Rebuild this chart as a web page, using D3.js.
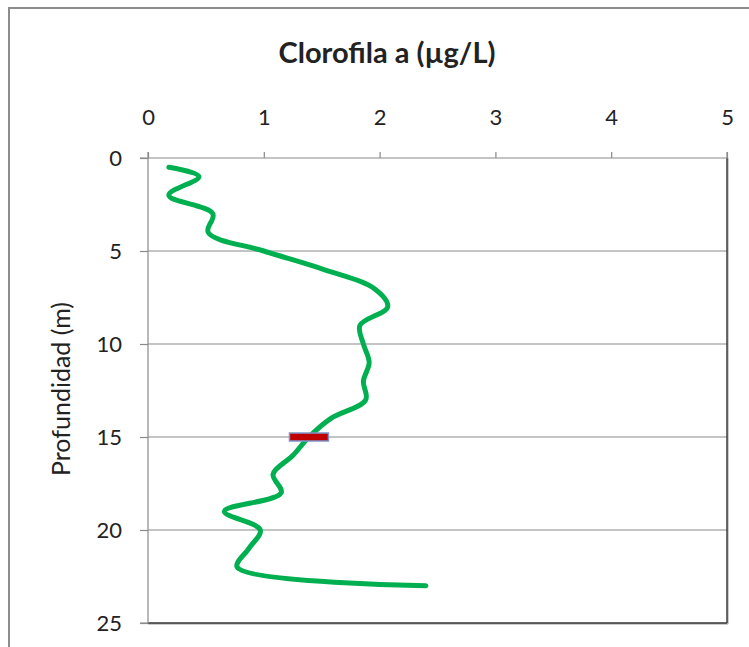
<!DOCTYPE html>
<html><head><meta charset="utf-8">
<script src="https://cdn.jsdelivr.net/npm/d3@7"></script>
<style>
html,body{margin:0;padding:0;background:#fff;}
svg{display:block;}
text{font-family:Lato,"Open Sans",sans-serif;fill:#222;}
</style></head>
<body>
<script>
// Data
const depths = [0.5, 1, 2, 3, 4, 5, 6, 7, 8, 9, 10, 11, 12, 13, 14, 15, 16, 17, 18, 19, 20, 21, 22, 23];
const chlorophyll = [0.18, 0.44, 0.18, 0.56, 0.52, 1.0, 1.52, 1.95, 2.07, 1.83, 1.86, 1.91, 1.86, 1.88, 1.58, 1.39, 1.25, 1.08, 1.15, 0.66, 0.97, 0.87, 0.77, 2.40];
const markerDepth = [15];
const markerValue = [1.39];
const xTicks = [0, 1, 2, 3, 4, 5];
const yTicks = [0, 5, 10, 15, 20, 25];
const titleText = "Clorofila a (µg/L)";
const yTitleText = "Profundidad (m)";

const W = 749, H = 647;
const svg = d3.select("body").append("svg").attr("width", W).attr("height", H);

// outer chart border (cropped)
svg.append("rect").attr("x", 9).attr("y", 8).attr("width", W + 20).attr("height", H + 20)
  .attr("fill", "#fff").attr("stroke", "#8c8c8c").attr("stroke-width", 2);

const L = 148, R = 727, T = 158, B = 623;
const x = d3.scaleLinear().domain([0, 5]).range([L, R]);
const y = d3.scaleLinear().domain([0, 25]).range([T, B]);

// gridlines
svg.append("g").selectAll("line").data(yTicks.filter(d => d > 0 && d < 25)).join("line")
  .attr("x1", L).attr("x2", R).attr("y1", d => y(d)).attr("y2", d => y(d))
  .attr("stroke", "#8a8a8a").attr("stroke-width", 1.2);

// plot frame right/bottom
svg.append("line").attr("x1", R + 1).attr("x2", R + 1).attr("y1", T).attr("y2", B + 1)
  .attr("stroke", "#999").attr("stroke-width", 1);
svg.append("line").attr("x1", R).attr("x2", R).attr("y1", T).attr("y2", B)
  .attr("stroke", "#222").attr("stroke-width", 1.3);
svg.append("line").attr("x1", L).attr("x2", R + 1).attr("y1", B + 1).attr("y2", B + 1)
  .attr("stroke", "#999").attr("stroke-width", 1);
svg.append("line").attr("x1", L).attr("x2", R).attr("y1", B).attr("y2", B)
  .attr("stroke", "#333").attr("stroke-width", 1.3);

// axes
const xAxis = d3.axisTop(x).tickValues(xTicks).tickSize(6).tickPadding(27).tickFormat(d3.format("d"));
const gx = svg.append("g").attr("transform", `translate(0,${T})`).call(xAxis);
const yAxis = d3.axisLeft(y).tickValues(yTicks).tickSize(8).tickPadding(18).tickFormat(d3.format("d"));
const gy = svg.append("g").attr("transform", `translate(${L},0)`).call(yAxis);
[gx, gy].forEach(g => {
  g.select(".domain").attr("stroke", "#8a8a8a").attr("stroke-width", 1.2);
  g.selectAll(".tick line").attr("stroke", "#8a8a8a").attr("stroke-width", 1.2);
  g.selectAll(".tick text").attr("font-size", 22).attr("fill", "#222")
    .style("font-family", "Lato, 'Open Sans', sans-serif");
});
gx.select(".domain").attr("d", `M${L},-6V0H${R}V-6`);
gy.select(".domain").attr("d", `M-8,${T}H0V${B}H-8`);

// line
const pts = depths.map((d, i) => [chlorophyll[i], d]);
const line = d3.line().x(d => x(d[0])).y(d => y(d[1])).curve(d3.curveCatmullRom.alpha(0.5));
svg.append("path").attr("d", line(pts)).attr("fill", "none")
  .attr("stroke", "#00b050").attr("stroke-width", 5).attr("stroke-linecap", "round").attr("stroke-linejoin", "round");

// marker
svg.append("g").selectAll("rect").data(markerDepth.map((d, i) => [markerValue[i], d])).join("rect")
  .attr("x", d => x(d[0]) - 19.5).attr("y", d => y(d[1]) - 4).attr("width", 39).attr("height", 8)
  .attr("fill", "#c00000").attr("stroke", "#7f95c8").attr("stroke-width", 1.5);

// titles
svg.append("text").attr("x", 387).attr("y", 63).attr("text-anchor", "middle")
  .attr("font-size", 29).attr("font-weight", "bold").text(titleText);
svg.append("text").attr("transform", "translate(70,389) rotate(-90)").attr("text-anchor", "middle")
  .attr("font-size", 25).text(yTitleText);
</script>
</body></html>
